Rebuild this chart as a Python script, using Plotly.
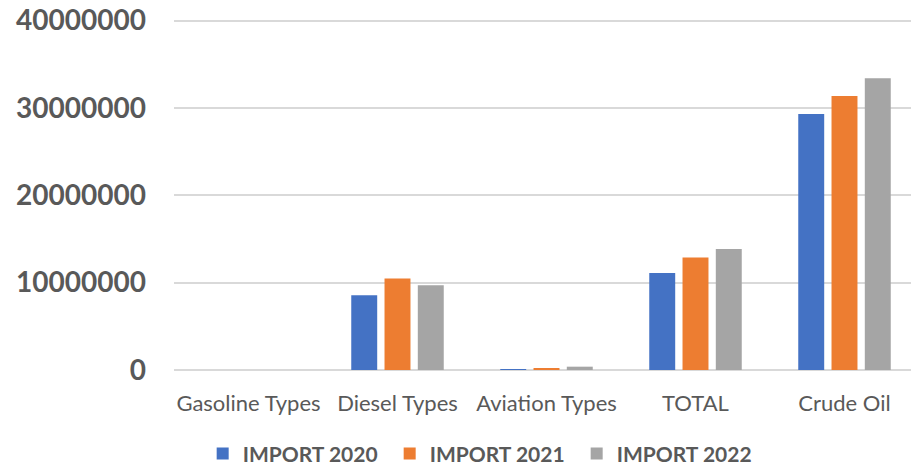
import plotly.graph_objects as go

# categories and import volumes per year
categories = ["Gasoline Types", "Diesel Types", "Aviation Types", "TOTAL", "Crude Oil"]
import_2020 = [0, 8570000, 50000, 11100000, 29300000]
import_2021 = [0, 10480000, 120000, 12870000, 31360000]
import_2022 = [0, 9710000, 380000, 13850000, 33400000]

series = [
    ("IMPORT 2020", import_2020, "#4472C4"),
    ("IMPORT 2021", import_2021, "#ED7D31"),
    ("IMPORT 2022", import_2022, "#A5A5A5"),
]

fig = go.Figure()
for name, vals, col in series:
    fig.add_trace(go.Bar(
        x=categories, y=vals, name=name,
        marker=dict(color=col, line=dict(width=0)),
    ))

# page body adds an 8px offset, so the figure is a bit smaller than the window
fig.update_layout(
    width=911, height=459,
    margin=dict(l=166, r=0, t=10, b=97, autoexpand=False),
    paper_bgcolor="white", plot_bgcolor="white",
    barmode="group", bargap=0.33, bargroupgap=0.22,
    font=dict(family="Lato", color="#595959"),
    showlegend=True,
    legend=dict(
        orientation="h", x=0.415, xanchor="center", y=-0.18, yanchor="top",
        font=dict(size=21, family="Lato", color="#595959", weight="bold"),
        itemwidth=30, entrywidth=142, traceorder="normal",
    ),
)
# range a bit above 40M so the top gridline is drawn
fig.update_yaxes(
    range=[0, 40300000], tickvals=[0, 10000000, 20000000, 30000000, 40000000],
    tickformat="d",
    showgrid=True, gridcolor="#D9D9D9", gridwidth=1.5,
    zeroline=True, zerolinecolor="#D9D9D9", zerolinewidth=1.5,
    tickfont=dict(size=28, family="Lato", color="#595959", weight="bold"),
    ticklabelstandoff=27, ticklabeloverflow="allow",
    showline=False, automargin=False,
)
fig.update_xaxes(
    tickfont=dict(size=22, family="Lato", color="#595959"),
    ticklabelstandoff=18, showline=False, automargin=False,
)

fig.write_html("out.html")
